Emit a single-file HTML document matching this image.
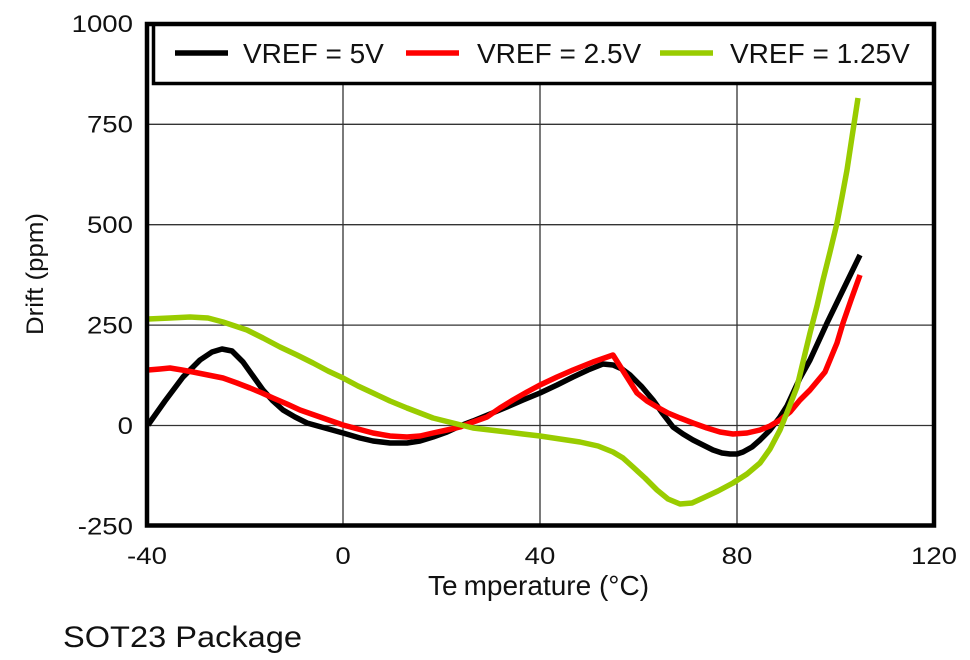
<!DOCTYPE html>
<html>
<head>
<meta charset="utf-8">
<style>
  html, body { margin: 0; padding: 0; background: #ffffff; }
  svg { display: block; }
  text { font-family: "Liberation Sans", Arial, sans-serif; fill: #111; }
</style>
</head>
<body>
<svg width="970" height="660" viewBox="0 0 970 660" xmlns="http://www.w3.org/2000/svg">
  <rect x="0" y="0" width="970" height="660" fill="#ffffff"/>

  <!-- grid -->
  <g stroke="#333" stroke-width="1.3">
    <line x1="147" y1="124.3" x2="934" y2="124.3"/>
    <line x1="147" y1="224.7" x2="934" y2="224.7"/>
    <line x1="147" y1="325.1" x2="934" y2="325.1"/>
    <line x1="147" y1="425.5" x2="934" y2="425.5"/>
    <line x1="343" y1="84" x2="343" y2="525"/>
    <line x1="540" y1="84" x2="540" y2="525"/>
    <line x1="737" y1="84" x2="737" y2="525"/>
  </g>

  <!-- curves -->
  <g fill="none" stroke-width="5.5" stroke-linejoin="round" stroke-linecap="butt">
    <polyline stroke="#000000" points="148,425 165,401 183,377 200,360 212,352 222,349 232,351 243,362 253,376 263,390 273,401 283,410 295,417 307,423 325,428 343,433 360,438 373,441 390,443 407,443 420,441 433,437 447,432 460,426 473,421 490,414 507,407 523,400 540,393 557,385 573,377 588,370 603,364 613,365 622,369 630,375 642,387 653,400 663,414 673,427 683,434 693,440 703,445 713,450 722,453 730,454 737,454 743,452 752,447 760,440 770,430 780,417 787,406 793,393 800,378 810,360 827,323 843,290 860,255"/>
    <polyline stroke="#ff0000" points="148,370 160,369 170,368 182,370 193,372 208,375 223,378 237,383 250,388 262,393 273,398 287,404 300,410 320,417 343,425 358,429 373,433 390,436 407,437 420,436 433,433 447,430 460,427 473,422 487,417 500,408 513,400 527,392 540,385 557,377 573,370 593,362 613,355 625,374 637,393 647,401 657,407 668,413 680,418 693,423 707,428 720,432 733,434 747,433 760,430 770,426 780,420 790,412 800,400 810,390 825,372 837,343 843,323 851,300 860,275"/>
    <polyline stroke="#99cc00" points="148,319 170,318 190,317 208,318 223,322 235,326 247,330 263,338 280,347 297,355 313,363 328,371 343,378 358,386 373,393 390,401 407,408 420,413 433,418 445,421 457,424 473,428 490,430 507,432 523,434 540,436 560,439 580,442 598,446 613,452 623,458 633,467 645,478 657,490 668,499 680,504 692,503 703,498 718,491 733,483 747,474 760,463 770,449 780,430 788,410 797,387 803,362 810,333 817,306 823,280 830,252 837,223 842,197 847,170 852,137 858,98"/>
  </g>

  <!-- legend box -->
  <rect x="153.5" y="24" width="780.5" height="59.5" fill="#ffffff" stroke="#000" stroke-width="3.5"/>
  <g stroke-width="5.5">
    <line x1="175" y1="53" x2="228" y2="53" stroke="#000000"/>
    <line x1="406" y1="53" x2="459" y2="53" stroke="#ff0000"/>
    <line x1="660" y1="53" x2="713" y2="53" stroke="#99cc00"/>
  </g>
  <g font-size="28">
    <text x="243" y="63">VREF = 5V</text>
    <text x="477" y="63">VREF = 2.5V</text>
    <text x="730" y="63">VREF = 1.25V</text>
  </g>

  <!-- plot border -->
  <rect x="147" y="24" width="787" height="501.5" fill="none" stroke="#000" stroke-width="4.5"/>

  <!-- y tick labels -->
  <g font-size="24" text-anchor="end">
    <text transform="translate(133,32) scale(1.15,1)">1000</text>
    <text transform="translate(133,132.5) scale(1.15,1)">750</text>
    <text transform="translate(133,233) scale(1.15,1)">500</text>
    <text transform="translate(133,333.5) scale(1.15,1)">250</text>
    <text transform="translate(133,434) scale(1.15,1)">0</text>
    <text transform="translate(133,534.5) scale(1.15,1)">-250</text>
  </g>

  <!-- x tick labels -->
  <g font-size="24" text-anchor="middle">
    <text transform="translate(147,564) scale(1.15,1)">-40</text>
    <text transform="translate(343,564) scale(1.15,1)">0</text>
    <text transform="translate(540,564) scale(1.15,1)">40</text>
    <text transform="translate(737,564) scale(1.15,1)">80</text>
    <text transform="translate(934,564) scale(1.15,1)">120</text>
  </g>

  <!-- axis titles -->
  <text x="428" y="595" font-size="28">Te<tspan dx="6">mperature (°C)</tspan></text>
  <text transform="translate(43,274) rotate(-90)" font-size="24" text-anchor="middle" textLength="122" lengthAdjust="spacingAndGlyphs">Drift (ppm)</text>

  <!-- caption -->
  <text x="63" y="647" font-size="30" textLength="239" lengthAdjust="spacingAndGlyphs">SOT23 Package</text>
</svg>
</body>
</html>
